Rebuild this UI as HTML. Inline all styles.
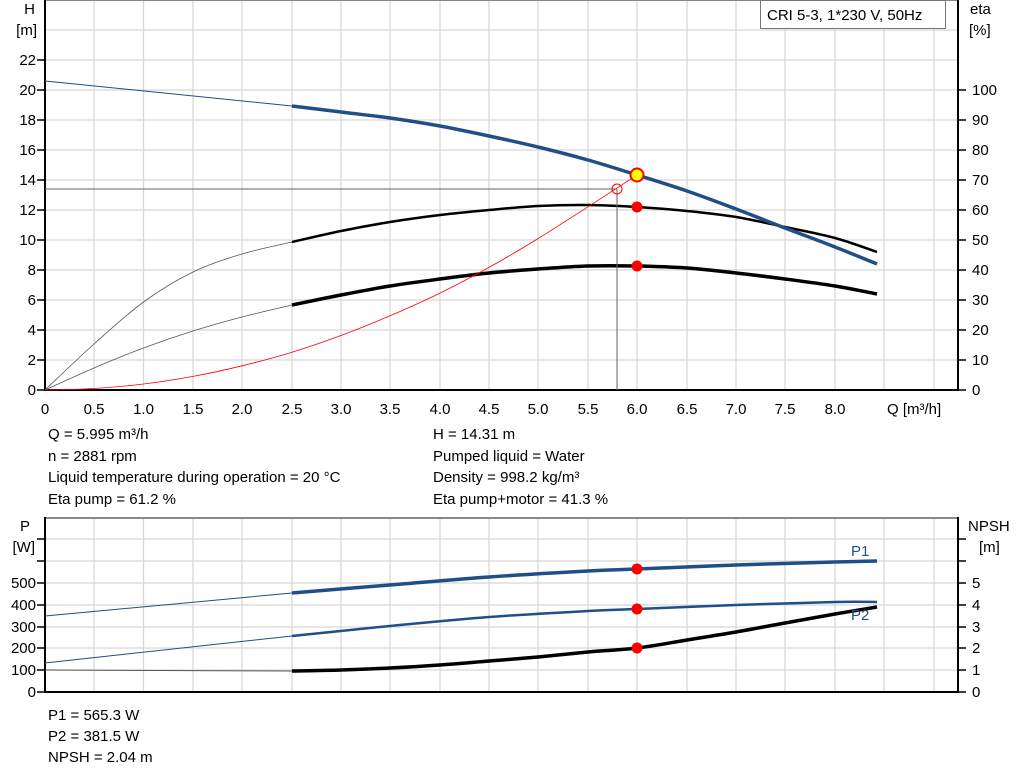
<!DOCTYPE html>
<html><head><meta charset="utf-8"><style>
body{margin:0;background:#fff;}
svg{display:block;font-family:"Liberation Sans",Arial,sans-serif;}
</style></head><body>
<svg id="s" width="1024" height="781" viewBox="0 0 1024 781" xmlns="http://www.w3.org/2000/svg">
<rect width="1024" height="781" fill="#fff"/>
<g stroke="#d8d8d8" stroke-width="1.3">
<line x1="94" y1="0" x2="94" y2="390"/><line x1="143.5" y1="0" x2="143.5" y2="390"/><line x1="193" y1="0" x2="193" y2="390"/><line x1="242" y1="0" x2="242" y2="390"/><line x1="292" y1="0" x2="292" y2="390"/><line x1="341" y1="0" x2="341" y2="390"/><line x1="390" y1="0" x2="390" y2="390"/><line x1="440" y1="0" x2="440" y2="390"/><line x1="489" y1="0" x2="489" y2="390"/><line x1="538" y1="0" x2="538" y2="390"/><line x1="588" y1="0" x2="588" y2="390"/><line x1="637" y1="0" x2="637" y2="390"/><line x1="687" y1="0" x2="687" y2="390"/><line x1="736" y1="0" x2="736" y2="390"/><line x1="785" y1="0" x2="785" y2="390"/><line x1="835" y1="0" x2="835" y2="390"/><line x1="884" y1="0" x2="884" y2="390"/><line x1="934" y1="0" x2="934" y2="390"/>
<line x1="45" y1="30" x2="958" y2="30"/><line x1="45" y1="60" x2="958" y2="60"/><line x1="45" y1="90" x2="958" y2="90"/><line x1="45" y1="120" x2="958" y2="120"/><line x1="45" y1="150" x2="958" y2="150"/><line x1="45" y1="180" x2="958" y2="180"/><line x1="45" y1="210" x2="958" y2="210"/><line x1="45" y1="240" x2="958" y2="240"/><line x1="45" y1="270" x2="958" y2="270"/><line x1="45" y1="300" x2="958" y2="300"/><line x1="45" y1="330" x2="958" y2="330"/><line x1="45" y1="360" x2="958" y2="360"/>
</g>
<line x1="45" y1="0.5" x2="958" y2="0.5" stroke="#888" stroke-width="1"/>
<g stroke="#000" stroke-width="2"><line x1="45" y1="0" x2="45" y2="391"/><line x1="44" y1="390" x2="958" y2="390"/><line x1="958" y1="0" x2="958" y2="391"/></g>
<g stroke="#000" stroke-width="1.5">
<line x1="37" y1="60" x2="45" y2="60"/><line x1="37" y1="90" x2="45" y2="90"/><line x1="37" y1="120" x2="45" y2="120"/><line x1="37" y1="150" x2="45" y2="150"/><line x1="37" y1="180" x2="45" y2="180"/><line x1="37" y1="210" x2="45" y2="210"/><line x1="37" y1="240" x2="45" y2="240"/><line x1="37" y1="270" x2="45" y2="270"/><line x1="37" y1="300" x2="45" y2="300"/><line x1="37" y1="330" x2="45" y2="330"/><line x1="37" y1="360" x2="45" y2="360"/><line x1="37" y1="390" x2="45" y2="390"/>
<line x1="958" y1="90" x2="966" y2="90"/><line x1="958" y1="120" x2="966" y2="120"/><line x1="958" y1="150" x2="966" y2="150"/><line x1="958" y1="180" x2="966" y2="180"/><line x1="958" y1="210" x2="966" y2="210"/><line x1="958" y1="240" x2="966" y2="240"/><line x1="958" y1="270" x2="966" y2="270"/><line x1="958" y1="300" x2="966" y2="300"/><line x1="958" y1="330" x2="966" y2="330"/><line x1="958" y1="360" x2="966" y2="360"/><line x1="958" y1="390" x2="966" y2="390"/>
</g>
<g font-size="15" fill="#000" text-anchor="end">
<text x="35" y="14">H</text><text x="37" y="35">[m]</text>
<text x="36" y="65">22</text><text x="36" y="95">20</text><text x="36" y="125">18</text><text x="36" y="155">16</text><text x="36" y="185">14</text><text x="36" y="215">12</text><text x="36" y="245">10</text><text x="36" y="275">8</text><text x="36" y="305">6</text><text x="36" y="335">4</text><text x="36" y="365">2</text><text x="36" y="395">0</text>
</g>
<g font-size="15" fill="#000">
<text x="970" y="14">eta</text><text x="969" y="35">[%]</text>
<text x="972" y="95">100</text><text x="972" y="125">90</text><text x="972" y="155">80</text><text x="972" y="185">70</text><text x="972" y="215">60</text><text x="972" y="245">50</text><text x="972" y="275">40</text><text x="972" y="305">30</text><text x="972" y="335">20</text><text x="972" y="365">10</text><text x="972" y="395">0</text>
</g>
<g font-size="15" fill="#000" text-anchor="middle">
<text x="45" y="414">0</text><text x="94" y="414">0.5</text><text x="143.5" y="414">1.0</text><text x="193" y="414">1.5</text><text x="242" y="414">2.0</text><text x="292" y="414">2.5</text><text x="341" y="414">3.0</text><text x="390" y="414">3.5</text><text x="440" y="414">4.0</text><text x="489" y="414">4.5</text><text x="538" y="414">5.0</text><text x="588" y="414">5.5</text><text x="637" y="414">6.0</text><text x="687" y="414">6.5</text><text x="736" y="414">7.0</text><text x="785" y="414">7.5</text><text x="835" y="414">8.0</text>
</g>
<text x="887" y="414" font-size="15">Q [m³/h]</text>
<rect x="760.5" y="0.5" width="185" height="28" fill="#fff" stroke="#777"/>
<text x="767" y="20" font-size="15">CRI 5-3, 1*230 V, 50Hz</text>
<polyline class="sm" fill="none" stroke="#555" stroke-width="0.8" points="45,390 94,344 143.5,302 193,272 242,254 292,242"/>
<polyline class="sm" fill="none" stroke="#000" stroke-width="2.5" points="292,242 341,231 390,222 440,215 489,210 538,206 588,205 637,207 687,211 736,217 785,227 835,238 877,252"/>
<polyline class="sm" fill="none" stroke="#555" stroke-width="0.8" points="45,390 94,368 143.5,348 193,331 242,317 292,305"/>
<polyline class="sm" fill="none" stroke="#000" stroke-width="3.5" points="292,305 341,295 390,286 440,279 489,273 538,269 588,266 637,266 687,268 736,273 785,279 835,286 877,294"/>
<line x1="45" y1="189" x2="617" y2="189" stroke="#666" stroke-width="1"/>
<line x1="617" y1="189" x2="617" y2="390" stroke="#666" stroke-width="1"/>
<polyline class="sm" fill="none" stroke="#f00" stroke-width="0.8" points="45,390 94,388.5 143.5,384 193,376.4 242,365.8 292,352.2 341,335.5 390,315.8 440,293.1 489,267.4 538,238.6 588,206.8 637,175"/>
<line x1="45" y1="81" x2="292" y2="106" stroke="#1f4f86" stroke-width="1"/>
<polyline class="sm" fill="none" stroke="#1f4f86" stroke-width="3.5" points="292,106 341,112 390,118 440,126 489,136 538,147 588,160 637,175 687,191 736,209 785,228 835,247 877,264"/>
<circle cx="617" cy="189" r="5" fill="none" stroke="#f00" stroke-width="1"/>
<circle cx="637" cy="175" r="6.5" fill="#ff0" stroke="#f00" stroke-width="2"/>
<circle cx="637" cy="207" r="5.5" fill="#f00"/>
<circle cx="637" cy="266" r="5.5" fill="#f00"/>
<g font-size="15" fill="#000">
<text x="48" y="439">Q = 5.995 m³/h</text><text x="48" y="461">n = 2881 rpm</text><text x="48" y="482">Liquid temperature during operation = 20 °C</text><text x="48" y="504">Eta pump = 61.2 %</text>
<text x="433" y="439">H = 14.31 m</text><text x="433" y="461">Pumped liquid = Water</text><text x="433" y="482">Density = 998.2 kg/m³</text><text x="433" y="504">Eta pump+motor = 41.3 %</text>
</g>
<g stroke="#d8d8d8" stroke-width="1.3">
<line x1="94" y1="517" x2="94" y2="692"/><line x1="143.5" y1="517" x2="143.5" y2="692"/><line x1="193" y1="517" x2="193" y2="692"/><line x1="242" y1="517" x2="242" y2="692"/><line x1="292" y1="517" x2="292" y2="692"/><line x1="341" y1="517" x2="341" y2="692"/><line x1="390" y1="517" x2="390" y2="692"/><line x1="440" y1="517" x2="440" y2="692"/><line x1="489" y1="517" x2="489" y2="692"/><line x1="538" y1="517" x2="538" y2="692"/><line x1="588" y1="517" x2="588" y2="692"/><line x1="637" y1="517" x2="637" y2="692"/><line x1="687" y1="517" x2="687" y2="692"/><line x1="736" y1="517" x2="736" y2="692"/><line x1="785" y1="517" x2="785" y2="692"/><line x1="835" y1="517" x2="835" y2="692"/><line x1="884" y1="517" x2="884" y2="692"/><line x1="934" y1="517" x2="934" y2="692"/>
<line x1="45" y1="539" x2="958" y2="539"/><line x1="45" y1="561" x2="958" y2="561"/><line x1="45" y1="583" x2="958" y2="583"/><line x1="45" y1="605" x2="958" y2="605"/><line x1="45" y1="627" x2="958" y2="627"/><line x1="45" y1="648" x2="958" y2="648"/><line x1="45" y1="670" x2="958" y2="670"/>
</g>
<line x1="45" y1="518" x2="958" y2="518" stroke="#888" stroke-width="2"/>
<g stroke="#000" stroke-width="2"><line x1="45" y1="517" x2="45" y2="693"/><line x1="44" y1="692" x2="958" y2="692"/><line x1="958" y1="517" x2="958" y2="693"/></g>
<g stroke="#000" stroke-width="1.5">
<line x1="37" y1="539" x2="45" y2="539"/><line x1="37" y1="561" x2="45" y2="561"/><line x1="37" y1="583" x2="45" y2="583"/><line x1="37" y1="605" x2="45" y2="605"/><line x1="37" y1="627" x2="45" y2="627"/><line x1="37" y1="648" x2="45" y2="648"/><line x1="37" y1="670" x2="45" y2="670"/><line x1="37" y1="692" x2="45" y2="692"/>
<line x1="958" y1="539" x2="966" y2="539"/><line x1="958" y1="561" x2="966" y2="561"/><line x1="958" y1="583" x2="966" y2="583"/><line x1="958" y1="605" x2="966" y2="605"/><line x1="958" y1="627" x2="966" y2="627"/><line x1="958" y1="648" x2="966" y2="648"/><line x1="958" y1="670" x2="966" y2="670"/><line x1="958" y1="692" x2="966" y2="692"/>
</g>
<g font-size="15" fill="#000" text-anchor="end">
<text x="30" y="531">P</text><text x="35" y="552">[W]</text>
<text x="36" y="588">500</text><text x="36" y="610">400</text><text x="36" y="632">300</text><text x="36" y="653">200</text><text x="36" y="675">100</text><text x="36" y="697">0</text>
</g>
<g font-size="15" fill="#000">
<text x="968" y="531">NPSH</text><text x="979" y="552">[m]</text>
<text x="972" y="588">5</text><text x="972" y="610">4</text><text x="972" y="632">3</text><text x="972" y="653">2</text><text x="972" y="675">1</text><text x="972" y="697">0</text>
</g>
<line x1="45" y1="616" x2="292" y2="593" stroke="#1f4f86" stroke-width="1"/>
<polyline class="sm" fill="none" stroke="#1f4f86" stroke-width="3.5" points="292,593 390,585 489,577 588,571 637,569 736,565 835,562 877,561"/>
<line x1="45" y1="663" x2="292" y2="636" stroke="#1f4f86" stroke-width="1"/>
<polyline class="sm" fill="none" stroke="#1f4f86" stroke-width="2.5" points="292,636 390,626 489,617 588,611 637,609 736,605 835,602 877,602"/>
<line x1="45" y1="670" x2="292" y2="671" stroke="#555" stroke-width="1"/>
<polyline class="sm" fill="none" stroke="#000" stroke-width="3.5" points="292,671 341,670 390,668 440,665 489,661 538,657 588,652 637,648 687,640 736,632 785,623 835,614 877,607"/>
<circle cx="637" cy="569" r="5.5" fill="#f00"/>
<circle cx="637" cy="609" r="5.5" fill="#f00"/>
<circle cx="637" cy="648" r="5.5" fill="#f00"/>
<text x="851" y="556" font-size="15" fill="#1f4f86">P1</text>
<text x="851" y="620" font-size="15" fill="#1f4f86">P2</text>
<g font-size="15" fill="#000">
<text x="48" y="720">P1 = 565.3 W</text><text x="48" y="741">P2 = 381.5 W</text><text x="48" y="762">NPSH = 2.04 m</text>
</g>
</svg>
<script>
(function(){
var NS="http://www.w3.org/2000/svg";
var pls=document.querySelectorAll("polyline.sm");
for(var k=0;k<pls.length;k++){
var pl=pls[k];
var pts=pl.getAttribute("points").trim().split(/\s+/).map(function(s){var a=s.split(",");return [+a[0],+a[1]];});
var d="M"+pts[0][0]+","+pts[0][1];
for(var i=0;i<pts.length-1;i++){
var p0=pts[i-1]||pts[i],p1=pts[i],p2=pts[i+1],p3=pts[i+2]||p2;
var c1x=p1[0]+(p2[0]-p0[0])/6,c1y=p1[1]+(p2[1]-p0[1])/6;
var c2x=p2[0]-(p3[0]-p1[0])/6,c2y=p2[1]-(p3[1]-p1[1])/6;
d+=" C"+c1x+","+c1y+" "+c2x+","+c2y+" "+p2[0]+","+p2[1];
}
var path=document.createElementNS(NS,"path");
path.setAttribute("d",d);
["fill","stroke","stroke-width"].forEach(function(a){path.setAttribute(a,pl.getAttribute(a));});
pl.parentNode.replaceChild(path,pl);
}
})();
</script>
</body></html>
